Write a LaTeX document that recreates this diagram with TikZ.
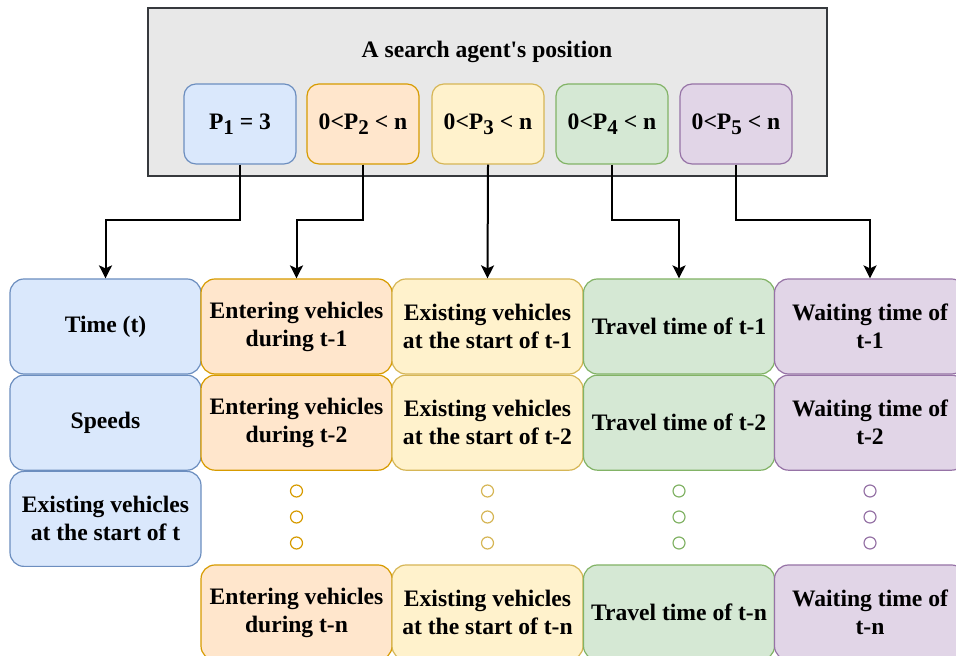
\documentclass[tikz,border=0pt]{standalone}
\usepackage{fontspec}
\setmainfont{Liberation Serif}
\usepackage{xcolor}
\usepackage{tikz}
\usetikzlibrary{arrows.meta,positioning}

\definecolor{blueF}{HTML}{DAE8FC}\definecolor{blueD}{HTML}{6C8EBF}
\definecolor{orangeF}{HTML}{FFE6CC}\definecolor{orangeD}{HTML}{D79B00}
\definecolor{yellowF}{HTML}{FFF2CC}\definecolor{yellowD}{HTML}{D6B656}
\definecolor{greenF}{HTML}{D5E8D4}\definecolor{greenD}{HTML}{82B366}
\definecolor{purpleF}{HTML}{E1D5E7}\definecolor{purpleD}{HTML}{9673A6}
\definecolor{frameF}{HTML}{E8E8E8}\definecolor{frameD}{HTML}{36393D}

\newcommand{\psub}[1]{\raisebox{-0.45ex}{\fontsize{10.5}{10.5}\selectfont #1}}

\tikzset{
  topbox/.style={draw=#1D,fill=#1F,rounded corners=6pt,line width=0.6pt,
    minimum width=56pt,minimum height=40pt,inner sep=0pt},
  cell/.style={draw=#1D,fill=#1F,rounded corners=7pt,line width=0.6pt,
    minimum width=95.5pt,minimum height=47.5pt,inner sep=0pt,align=center},
  dotmark/.style={circle,draw=#1D,fill=white,line width=0.6pt,minimum size=6pt,inner sep=0pt},
  link/.style={->,line width=1pt}
}

\begin{document}
\begin{tikzpicture}[x=0.5pt,y=0.5pt,>={Stealth[length=6.5pt,width=6.5pt,inset=1.5pt]},
  every node/.style={font=\bfseries\fontsize{11.8}{14}\selectfont}]
\useasboundingbox (0,0) rectangle (956,656);
% search agent
\node[draw=frameD,fill=frameF,line width=1pt,minimum width=339.5pt,minimum height=84pt] (frame) at (487.5,564) {};
\node (title) at (487,604) {A search agent\textquotesingle s position};
\node[topbox=blue] (p1) at (240,532) {P\psub{1} = 3};
\node[topbox=orange] (p2) at (363,532) {0<P\psub{2} < n};
\node[topbox=yellow] (p3) at (488,532) {0<P\psub{3} < n};
\node[topbox=green] (p4) at (612,532) {0<P\psub{4} < n};
\node[topbox=purple] (p5) at (736,532) {0<P\psub{5} < n};

% first row
\node[cell=blue] (time) at (105.5,329.5) {Time (t)};
\node[cell=orange] (ent1) at (296.5,329.5) {Entering vehicles\\during t-1};
\node[cell=yellow] (ex1) at (487.5,329.5) {Existing vehicles\\at the start of t-1};
\node[cell=green] (tr1) at (679,329.5) {Travel time of t-1};
\node[cell=purple] (wt1) at (870,329.5) {Waiting time of\\t-1};
% second row
\node[cell=blue,below=0pt of time] (speed) {Speeds};
\node[cell=orange,below=0pt of ent1] (ent2) {Entering vehicles\\during t-2};
\node[cell=yellow,below=0pt of ex1] (ex2) {Existing vehicles\\at the start of t-2};
\node[cell=green,below=0pt of tr1] (tr2) {Travel time of t-2};
\node[cell=purple,below=0pt of wt1] (wt2) {Waiting time of\\t-2};
\node[cell=blue,below=0pt of speed] (exist) {Existing vehicles\\at the start of t};
% last row
\node[cell=orange] (entn) at (296.5,43.5) {Entering vehicles\\during t-n};
\node[cell=yellow] (exn) at (487.5,43.5) {Existing vehicles\\at the start of t-n};
\node[cell=green] (trn) at (679,43.5) {Travel time of t-n};
\node[cell=purple] (wtn) at (870,43.5) {Waiting time of\\t-n};

% dots
\node[dotmark=orange] (o1) at (296.5,165) {};
\node[dotmark=orange] (o2) at (296.5,139) {};
\node[dotmark=orange] (o3) at (296.5,113) {};
\node[dotmark=yellow] (y1) at (487.5,165) {};
\node[dotmark=yellow] (y2) at (487.5,139) {};
\node[dotmark=yellow] (y3) at (487.5,113) {};
\node[dotmark=green] (g1) at (679,165) {};
\node[dotmark=green] (g2) at (679,139) {};
\node[dotmark=green] (g3) at (679,113) {};
\node[dotmark=purple] (v1) at (870,165) {};
\node[dotmark=purple] (v2) at (870,139) {};
\node[dotmark=purple] (v3) at (870,113) {};

% connectors
\coordinate (b1) at (105.5,436);
\coordinate (b2) at (296.5,436);
\coordinate (b4) at (679,436);
\coordinate (b5) at (870,436);
\draw[link] (p1.south) |- (b1) -- (time.north);
\draw[link] (p2.south) |- (b2) -- (ent1.north);
\draw[link] (p3.south) -- (ex1.north);
\draw[link] (p4.south) |- (b4) -- (tr1.north);
\draw[link] (p5.south) |- (b5) -- (wt1.north);
\end{tikzpicture}
\end{document}
